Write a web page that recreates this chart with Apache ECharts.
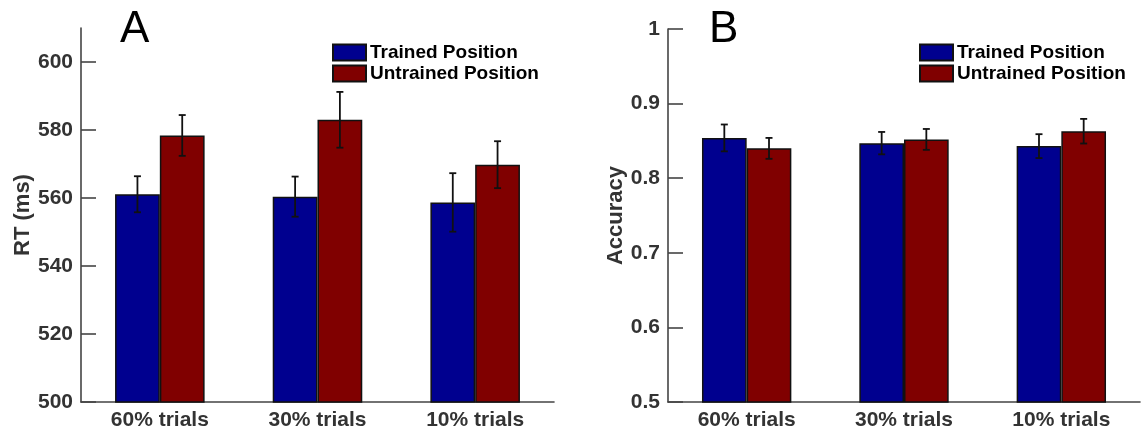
<!DOCTYPE html>
<html>
<head>
<meta charset="utf-8">
<script src="https://cdn.jsdelivr.net/npm/echarts@6/dist/echarts.min.js"></script>
<style>
  html, body { margin: 0; padding: 0; background: #fff; }
  #chart { width: 1144px; height: 433px; }
</style>
</head>
<body>
<div id="chart"></div>
<script>
// Conditions on the category axis
const categories = ['60% trials', '30% trials', '10% trials'];
const seriesNames = ['Trained Position', 'Untrained Position'];

// Panel A: reaction time (ms), mean and standard error
const rtTrained = [561.1, 560.4, 558.7];
const rtTrainedErr = [5.3, 5.9, 8.6];
const rtUntrained = [578.4, 583.0, 569.8];
const rtUntrainedErr = [6.0, 8.2, 6.9];
const rtTicks = [500, 520, 540, 560, 580, 600];

// Panel B: accuracy, mean and standard error
const accTrained = [0.854, 0.847, 0.843];
const accTrainedErr = [0.018, 0.015, 0.016];
const accUntrained = [0.840, 0.852, 0.863];
const accUntrainedErr = [0.014, 0.014, 0.0165];
const accTicks = [0.5, 0.6, 0.7, 0.8, 0.9, 1];

const FONT = '"Liberation Sans", Arial, Helvetica, sans-serif';
const BLUE = '#00008f';
const RED = '#800000';
const BAR_FRAC = 0.284;   // each bar's share of a category band

const chart = echarts.init(document.getElementById('chart'), null, { renderer: 'canvas' });

function errData(means, errs) {
  return means.map((m, i) => [i, m - errs[i], m + errs[i]]);
}

// Draws a capped vertical error bar over the left (-1) or right (+1) bar of a group
function errorBar(side) {
  return function (params, api) {
    const band = api.size([1, 0])[0];
    const dx = side * band * BAR_FRAC / 2;
    const lo = api.coord([api.value(0), api.value(1)]);
    const hi = api.coord([api.value(0), api.value(2)]);
    const x = lo[0] + dx;
    const cap = 3.5;
    const style = { stroke: '#111', lineWidth: 1.8 };
    return {
      type: 'group',
      children: [
        { type: 'line', shape: { x1: x, y1: hi[1], x2: x, y2: lo[1] }, style },
        { type: 'line', shape: { x1: x - cap, y1: hi[1], x2: x + cap, y2: hi[1] }, style },
        { type: 'line', shape: { x1: x - cap, y1: lo[1], x2: x + cap, y2: lo[1] }, style }
      ]
    };
  };
}

function barSeries(name, data, color, idx) {
  return {
    name,
    type: 'bar',
    xAxisIndex: idx,
    yAxisIndex: idx,
    data,
    barWidth: (BAR_FRAC * 100) + '%',
    barGap: '0%',
    itemStyle: { color, borderColor: '#111', borderWidth: 1.5 },
    emphasis: { disabled: true },
    silent: true,
    z: 2
  };
}

function errSeries(data, side, idx) {
  return {
    type: 'custom',
    xAxisIndex: idx,
    yAxisIndex: idx,
    data,
    encode: { x: 0, y: [1, 2] },
    renderItem: errorBar(side),
    silent: true,
    z: 5
  };
}

function xAxis(idx) {
  return {
    type: 'category',
    gridIndex: idx,
    data: categories,
    axisLine: { lineStyle: { color: '#444', width: 1.6 } },
    axisTick: { show: false },
    axisLabel: { fontFamily: FONT, fontSize: 21, fontWeight: 'bold', color: '#333', margin: 8 },
    splitLine: { show: false }
  };
}

function yAxis(idx, min, max, ticks, name, nameGap) {
  return {
    type: 'value',
    gridIndex: idx,
    min, max,
    name,
    nameLocation: 'middle',
    nameGap,
    nameTextStyle: { fontFamily: FONT, fontSize: 22, fontWeight: 'bold', color: '#333' },
    axisLine: { show: true, lineStyle: { color: '#444', width: 1.6 } },
    axisTick: { show: true, inside: true, length: 15, customValues: ticks, lineStyle: { color: '#444', width: 1.6 } },
    axisLabel: { customValues: ticks, fontFamily: FONT, fontSize: 21, fontWeight: 'bold', color: '#333', margin: 8 },
    splitLine: { show: false }
  };
}

function legend(left) {
  return {
    left, top: 38,
    orient: 'vertical',
    itemWidth: 33, itemHeight: 16, itemGap: 2,
    icon: 'rect',
    selectedMode: false,
    data: seriesNames,
    textStyle: { fontFamily: FONT, fontSize: 19, fontWeight: 'bold', color: '#000', padding: [0, 0, 0, -1] }
  };
}

chart.setOption({
  animation: false,
  backgroundColor: '#fff',
  title: [
    { text: 'A', left: 115, top: 3, textStyle: { fontFamily: FONT, fontSize: 44, fontWeight: 'normal', color: '#000' } },
    { text: 'B', left: 704, top: 3, textStyle: { fontFamily: FONT, fontSize: 44, fontWeight: 'normal', color: '#000' } }
  ],
  legend: [legend(327), legend(914)],
  grid: [
    { left: 81, top: 28, width: 473, bottom: 31, outerBoundsMode: 'none' },
    { left: 668, top: 29, width: 472, bottom: 31, outerBoundsMode: 'none' }
  ],
  xAxis: [xAxis(0), xAxis(1)],
  yAxis: [
    yAxis(0, 500, 610, rtTicks, 'RT (ms)', 46),
    yAxis(1, 0.5, 1, accTicks, 'Accuracy', 40)
  ],
  series: [
    barSeries(seriesNames[0], rtTrained, BLUE, 0),
    barSeries(seriesNames[1], rtUntrained, RED, 0),
    errSeries(errData(rtTrained, rtTrainedErr), -1, 0),
    errSeries(errData(rtUntrained, rtUntrainedErr), 1, 0),
    barSeries(seriesNames[0], accTrained, BLUE, 1),
    barSeries(seriesNames[1], accUntrained, RED, 1),
    errSeries(errData(accTrained, accTrainedErr), -1, 1),
    errSeries(errData(accUntrained, accUntrainedErr), 1, 1)
  ]
});
</script>
</body>
</html>
